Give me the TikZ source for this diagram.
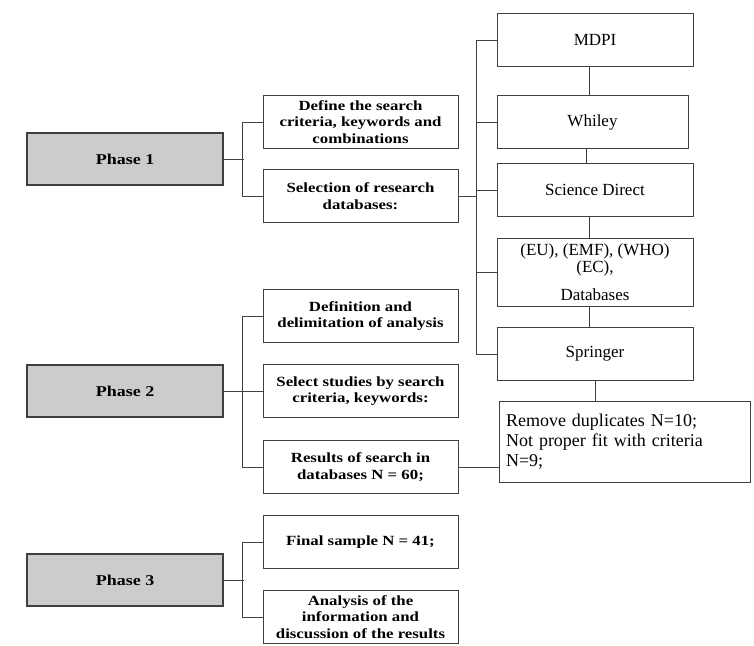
\documentclass[tikz,border=0pt]{standalone}
\usepackage{fontspec}
\setmainfont{Liberation Serif}
\newfontfamily\widebf[FakeStretch=1.2]{Liberation Serif}
\usetikzlibrary{positioning,calc}
\tikzset{
  phase/.style={draw=black!75,fill=gray!40,line width=1.2pt,minimum width=196pt,minimum height=52pt,font=\widebf\fontsize{15}{17}\selectfont\bfseries},
  task/.style={draw=black!75,line width=0.9pt,minimum width=195pt,minimum height=53pt,align=center,inner sep=2pt,font=\widebf\fontsize{14}{16.5}\selectfont\bfseries},
  db/.style={draw=black!75,line width=0.9pt,minimum width=196pt,minimum height=53pt,align=center,font=\fontsize{17}{17}\selectfont},
  link/.style={draw=black!75,line width=0.9pt}
}
\begin{document}
\begin{tikzpicture}[x=1pt,y=-1pt]
\useasboundingbox (0,0) rectangle (754,645);
% phases
\node[phase] (ph1) at (125,159) {Phase 1};
\node[phase] (ph2) at (125,391) {Phase 2};
\node[phase] (ph3) at (125,580) {Phase 3};
% steps of each phase
\node[task] (def) at (360.5,122) {Define the search\\criteria, keywords and\\combinations};
\node[task] (sel) at (360.5,196) {Selection of research\\databases:};
\node[task] (dfn) at (360.5,316) {Definition and\\delimitation of analysis};
\node[task] (sst) at (360.5,391) {Select studies by search\\criteria, keywords:};
\node[task] (res) at (360.5,467) {Results of search in\\databases N = 60;};
\node[task] (fin) at (360.5,542) {Final sample N = 41;};
\node[task] (ana) at (360.5,617) {Analysis of the\\information and\\discussion of the results};
% databases
\node[db] (mdpi) at (595,40) {MDPI};
\node[db,minimum width=191pt] (whi) at (592.5,122) {Whiley};
\node[db] (sd) at (595,190) {Science Direct};
\node[db,minimum height=68pt] (eu) at (595,272) {(EU), (EMF), (WHO)\\(EC),\\[11pt]Databases};
\node[db,minimum width=251pt,minimum height=81pt,text width=237pt,align=left,font=\fontsize{18}{20}\selectfont] (rem) at (624.5,441.5) {Remove duplicates N=10;\\Not proper fit with criteria\\N=9;};
\node[db] (spr) at (595,354) {Springer};
% connectors
\draw[link] (ph1.east) -- ++(20,0);
\draw[link] (def.west) -- ++(-20,0) |- (sel.west);
\draw[link] (ph2.east) -- (sst.west);
\draw[link] (dfn.west) -- ++(-20,0) |- (res.west);
\draw[link] (ph3.east) -- ++(20,0);
\draw[link] (fin.west) -- ++(-20,0) |- (ana.west);
\draw[link] (sel.east) -- ++(19,0);
\draw[link] (mdpi.west) -- ++(-20,0) |- (spr.west);
\foreach \n in {whi,sd,eu}{\draw[link] (\n.west) -- ++(-20,0);}
\foreach \a/\b in {mdpi/whi,whi/sd,sd/eu,eu/spr}{\draw[link] ([xshift=-6pt]\a.south) -- ([xshift=-6pt]\a.south |- \b.north);}
\draw[link] (spr.south) -- (spr.south |- rem.north);
\draw[link] (res.east) -- (res.east -| rem.west);
\end{tikzpicture}
\end{document}
